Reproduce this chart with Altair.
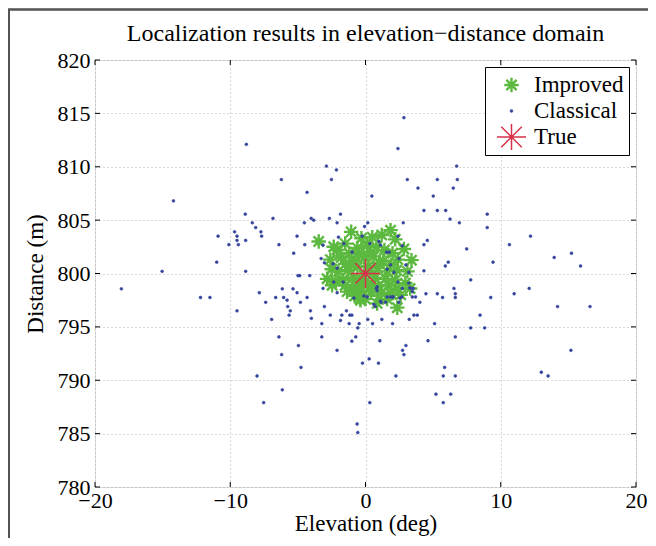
import altair as alt
import pandas as pd

# ---------------- data ----------------
series_names = ["Improved", "Classical", "True"]
x_ticks = [-20, -10, 0, 10, 20]
y_ticks = [780, 785, 790, 795, 800, 805, 810, 815, 820]

improved_x = [-3.46, -1.06, -0.3, 0.5, 1.85, 1.2, 2.2, 2.84, 3.4, 3.1, 2.95, 3.3, 2.6, 2.35, 1.6,
              0.86, 0.0, -0.37, -0.8, -1.36, -2.47, -2.84, -2.5, -2.6, -2.1, -1.5, -2.35,
              -1.8, -1.2, -0.6, 0.1, 0.8, 1.4, 2.0, 2.4, 1.9, 1.3, 0.6, -0.1, -0.8, -1.5, -2.0,
              -1.3, -0.6, 0.2, 0.9, 1.6, 2.3, 2.2, 1.5, 0.7, -0.1, -0.9, -1.7, -2.2, -1.5, -0.7,
              0.1, 0.9, 1.7, 2.3, 1.9, 1.2, 0.4, -0.3, -1.0, 1.0, -0.4, 0.4, -0.5, 1.0, -1.1,
              0.3, -0.4, 0.5]
improved_y = [803.0, 803.9, 803.3, 803.4, 804.06, 803.6, 803.2, 802.3, 801.25, 800.2, 799.1, 798.6,
              798.0, 796.8, 797.6, 797.2, 797.6, 797.5, 797.9, 798.3, 798.9, 799.5, 800.4, 801.3,
              802.2, 802.8, 802.5, 801.5, 801.9, 802.4, 802.6, 802.5, 802.2, 801.9, 801.3, 800.8,
              801.2, 801.6, 801.5, 801.2, 800.9, 800.2, 800.3, 800.6, 800.7, 800.5, 800.2, 800.3,
              799.4, 799.5, 799.6, 799.8, 799.6, 799.4, 799.3, 798.9, 798.7, 798.9, 798.8, 798.9,
              798.6, 798.1, 798.2, 798.3, 798.4, 798.6, 797.9, 797.6, 802.0, 801.9, 801.0, 800.8,
              800.2, 799.2, 799.0]

classical_x = [
    -8.81, -14.2, -2.89, -2.15, -6.22, -2.52, -4.32, -8.89, -6.84, -8.37, -8.12, -7.73, -7.68,
    -9.68, -9.5, -9.5, -8.86, -10.1, -9.4, -10.9, -11.0, -15.04, -18.05, -12.2, -11.5, -8.86,
    -5.31, -6.4, -5.06, -4.49, -4.52, -4.02, -2.67, -1.85, -2.1, -3.28, -3.04, -4.99, -4.86,
    -4.12, -7.85, -6.15, -5.36, -5.06, -6.64, -6.05, -4.32, -3.83, -2.0,
    -7.38, -4.81, -9.5, -5.56, -5.65, -4.07, -3.04, -6.94, -1.75, -1.41, -1.16, -1.01, -3.23,
    -1.21, -0.47, -0.57, 0.17, -6.4, -3.23, -4.96, -2.1, -0.72, -1.01, -6.2, -4.77, -0.22,
    0.27, -8.02, -6.15, -7.53, 0.32, -0.62, -0.57,
    2.84, 2.4, 6.74, 3.09, 5.31, 6.79, 3.88, 6.49, 0.47, 5.01, 4.32, 5.31, 5.93, 6.25, 6.94,
    9.0, 9.0, 2.79, 0.17, -0.07, 2.4, 4.57, 4.32, 7.48, 10.64, 12.2, 13.95, 15.23, 15.9, 6.12,
    5.9, 9.43, 4.32, 7.78, 10.99, 12.1, 4.47, 5.31, 5.7, 6.54, 6.64, 9.26,
    6.64, 3.33, 3.53, 2.69, 3.46, 3.7, 4.02, 14.2, 16.6, 8.47, 7.78, 8.81, 5.11, 3.23, 2.0,
    1.21, 0.52, 4.62, 6.64, 1.06, 2.99, 2.74, 2.84, 0.96, 2.25, 5.85, 5.75, 6.64, 5.21, 6.3,
    5.75, 15.19, 13.0, 13.5, 3.2, 1.16, 0.72, 2.0, 1.6, 0.81,
    -3.14, -2.4, -2.1, -1.65, -2.35, -2.1, -0.99, -0.25, 0.99, 1.11, 1.56, 1.75, 1.85, 2.1,
    1.6, 2.72, 2.47, 2.99, 3.21, 2.4, 2.72, 0.86, 0.86, -0.12, 0.12, -0.86, 1.85, 2.05, 1.11,
    1.48, 0.62, 2.54, 3.28, 3.46, 2.47, 0.32, -1.6, -2.6, -1.85, -4.0, 3.58, 3.83, -3.14,
    -5.8, -5.75]
classical_y = [
    812.1, 806.8, 810.06, 809.7, 808.8, 808.8, 807.6, 805.56, 805.16, 804.75, 804.3, 803.9, 803.5,
    803.9, 803.5, 803.1, 803.1, 802.7, 802.7, 803.5, 801.06, 800.2, 798.56, 797.75, 797.75, 800.2,
    801.9, 802.7, 803.5, 802.7, 804.75, 805.16, 805.16, 805.56, 804.75, 801.4, 801.0, 799.8, 799.8,
    799.8, 798.2, 798.56, 798.56, 798.2, 797.75, 797.75, 797.75, 805.0, 803.4,
    797.3, 797.3, 796.5, 796.5, 796.1, 796.5, 796.9, 795.7, 796.1, 796.5, 796.1, 796.1, 795.3,
    795.3, 795.3, 794.9, 795.7, 794.06, 794.06, 793.25, 792.8, 794.06, 793.66, 792.4, 791.2, 791.6,
    792.0, 790.4, 789.1, 787.9, 787.9, 785.9, 785.1,
    814.6, 811.7, 810.06, 808.8, 808.8, 808.8, 808.0, 808.0, 807.25, 807.25, 805.9, 805.9, 805.9,
    805.1, 804.75, 805.56, 804.3, 804.75, 804.75, 804.4, 803.5, 803.1, 802.7, 802.3, 802.7, 803.5,
    801.5, 801.9, 800.7, 801.06, 800.7, 801.06, 800.25, 799.4, 798.1, 798.6, 798.1, 798.1, 797.75,
    798.6, 798.1, 797.75,
    797.75, 798.6, 798.6, 797.8, 797.8, 797.8, 797.3, 796.9, 796.9, 796.1, 794.9, 794.9, 795.3,
    795.7, 795.3, 795.7, 795.3, 793.7, 794.06, 793.7, 793.25, 792.8, 792.4, 791.6, 790.4, 791.2,
    790.4, 790.4, 788.7, 788.7, 787.9, 792.8, 790.75, 790.4, 799.1, 797.3, 796.9, 797.8, 797.8,
    798.6,
    802.66, 800.9, 800.5, 799.2, 799.2, 798.2, 802.0, 803.5, 803.0, 802.66, 802.0, 802.0, 800.8,
    800.1, 800.4, 802.6, 801.4, 800.8, 800.1, 799.2, 798.6, 798.75, 798.4, 797.9, 797.8, 797.7,
    797.8, 797.8, 797.4, 797.3, 797.1, 797.7, 798.66, 798.3, 797.3, 802.8, 802.8, 796.1, 795.6,
    795.8, 796.1, 796.1, 798.6, 797.5, 796.9]

true_x = [0.0]
true_y = [800.0]

# ---------------- build table ----------------
rows = []
for xs, ys, name in [(improved_x, improved_y, "Improved"),
                     (classical_x, classical_y, "Classical"),
                     (true_x, true_y, "True")]:
    for a, b in zip(xs, ys):
        rows.append({"x": a, "y": b, "series": name, "idx": len(rows)})
df = pd.DataFrame(rows)
xt = pd.DataFrame({"x": x_ticks})
yt = pd.DataFrame({"y": y_ticks})

STAR = ("M0,-1L0,1M-1,0L1,0M-0.7071,-0.7071L0.7071,0.7071"
        "M-0.7071,0.7071L0.7071,-0.7071")
colors = ["#5cb93f", "#34449c", "#d8304a"]
FONT = "Liberation Serif"

W, H = 541, 427
xscale = alt.Scale(domain=[-20, 20], nice=False, zero=False)
yscale = alt.Scale(domain=[780, 820], nice=False, zero=False)

common_axis = dict(grid=True, gridColor="#b0b0b0", gridDash=[1, 3], gridWidth=1,
                   ticks=False, domain=False, labelFont=FONT, labelFontSize=22,
                   labelColor="black", labelFlush=False, labelOverlap=False,
                   titleFont=FONT, titleFontSize=23, titleFontWeight="normal",
                   titleColor="black", format="d")

leg = alt.Legend(title=None, orient="none", legendX=390, legendY=7,
                 strokeColor="black", fillColor="white", padding=5,
                 labelFont=FONT, labelFontSize=23, labelColor="black",
                 rowPadding=0, clipHeight=26, symbolOffset=6, labelOffset=7,
                 symbolOpacity=1)

points = alt.Chart(df).mark_point(opacity=1).encode(
    x=alt.X("x:Q", scale=xscale, title="Elevation (deg)",
            axis=alt.Axis(values=x_ticks, labelPadding=3, titlePadding=1, **common_axis)),
    y=alt.Y("y:Q", scale=yscale, title="Distance (m)",
            axis=alt.Axis(values=y_ticks, labelPadding=5, titlePadding=10, **common_axis)),
    shape=alt.Shape("series:N", legend=leg,
                    scale=alt.Scale(domain=series_names, range=[STAR, "circle", STAR])),
    fill=alt.Fill("series:N", legend=leg,
                  scale=alt.Scale(domain=series_names, range=colors)),
    stroke=alt.Stroke("series:N", legend=leg,
                      scale=alt.Scale(domain=series_names, range=colors)),
    size=alt.Size("series:N", legend=leg,
                  scale=alt.Scale(type="ordinal", domain=series_names, range=[210, 8, 841])),
    strokeWidth=alt.StrokeWidth("series:N", legend=leg,
                                scale=alt.Scale(type="ordinal", domain=series_names,
                                                range=[2.4, 0.6, 1.5])),
    order=alt.Order("idx:Q"),
)

tick_style = dict(color="black", strokeWidth=1)
bottom_ticks = alt.Chart(xt).mark_rule(**tick_style).encode(
    x=alt.X("x:Q", scale=xscale, title="Elevation (deg)"), y=alt.value(H), y2=alt.value(H - 5))
top_ticks = alt.Chart(xt).mark_rule(**tick_style).encode(
    x=alt.X("x:Q", scale=xscale, title="Elevation (deg)"), y=alt.value(0), y2=alt.value(5))
left_ticks = alt.Chart(yt).mark_rule(**tick_style).encode(
    y=alt.Y("y:Q", scale=yscale, title="Distance (m)"), x=alt.value(0), x2=alt.value(5))
right_ticks = alt.Chart(yt).mark_rule(**tick_style).encode(
    y=alt.Y("y:Q", scale=yscale, title="Distance (m)"), x=alt.value(W), x2=alt.value(W - 5))

# figure frame (left and top edges of the original figure crop)
frame_left = alt.Chart(xt).mark_rule(color="#555555", strokeWidth=1.5).encode(
    x=alt.value(-86), y=alt.value(-51), y2=alt.value(H + 51))
frame_top = alt.Chart(xt).mark_rule(color="#555555", strokeWidth=1.5).encode(
    x=alt.value(-87), x2=alt.value(W + 12), y=alt.value(-50.5))

chart = alt.layer(
    points, bottom_ticks, top_ticks, left_ticks, right_ticks, frame_left, frame_top
).properties(
    width=W, height=H,
    title=alt.TitleParams("Localization results in elevation\u2212distance domain",
                          anchor="middle", frame="group", baseline="alphabetic",
                          offset=0, dy=57, font=FONT, fontSize=24,
                          fontWeight="normal", color="black"),
    autosize=alt.AutoSizeParams(type="none"),
    padding={"left": 87, "top": 52, "right": 12, "bottom": 51},
).configure_view(
    stroke="black", strokeWidth=1
).configure(background="white")

chart.save("out.html", embed_options={"renderer": "svg", "actions": False})
